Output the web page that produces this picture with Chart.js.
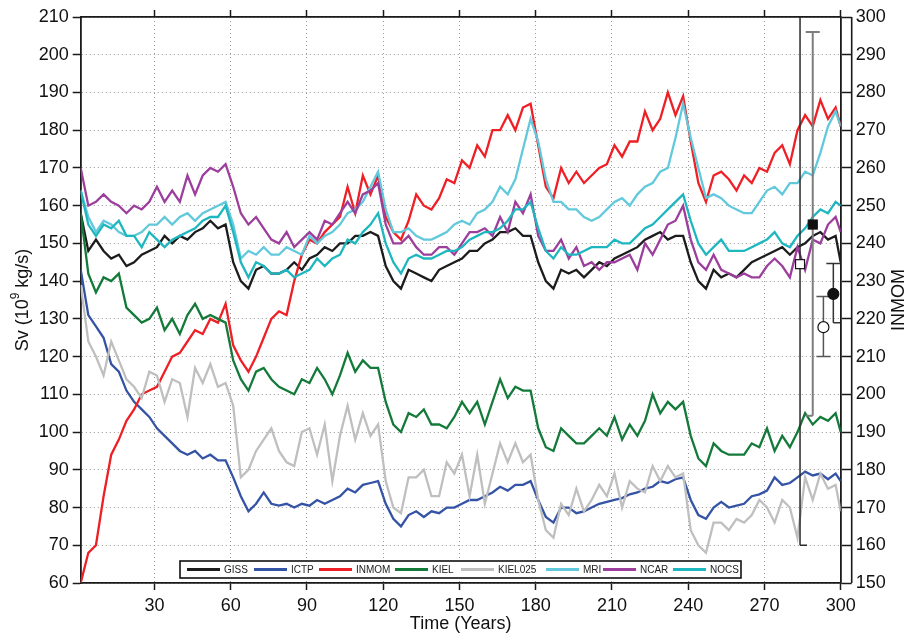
<!DOCTYPE html>
<html><head><meta charset="utf-8">
<script src="https://cdn.jsdelivr.net/npm/chart.js@4.4.1/dist/chart.umd.min.js"></script>
<style>html,body{margin:0;padding:0;background:#fff;}canvas{display:block;}</style>
</head><body>
<canvas id="c" width="908" height="634"></canvas>
<script>
// ---------------- data ----------------
const years = []; for (let y = 1; y <= 298; y += 3) years.push(y); years.push(300);
const xTicks = [30, 60, 90, 120, 150, 180, 210, 240, 270, 300];
const seriesNames = ['GISS', 'ICTP', 'INMOM', 'KIEL', 'KIEL025', 'MRI', 'NCAR', 'NOCS'];

const giss = [158,148,151,148,146,147,144,145,147,148, 149,152,150,152,151,153,154,156,154,155,
  145,140,138,143,144,142,142,143,145,143, 146,147,149,148,150,150,152,152,153,152,
  144,140,138,143,142,141,140,143,144,145, 146,148,148,150,151,153,153,154,152,152,
  145,140,138,143,142,143,141,143,145,144, 146,147,148,149,151,152,153,151,152,152,
  145,140,138,143,141,142,141,143,145,146, 147,148,149,147,149,150,152,153,151,152, 145];
const ictp = [143,131,128,125,118,116,111,108,106,104, 101,99,97,95,94,95,93,94,92.5,92.5,
  88,83,79,81,84,81,80.5,81,80,81, 80.5,82,81,82,83,85,84,86,86.5,87,
  81,77,75,78,79,77.5,79,78.5,80,80, 81,82,82,83,84,85.5,84.5,86,86,87,
  82,77.5,76,80,80,78.5,79,80,81,81.5, 82,82.5,83.5,84,85,85.5,87,86.5,87.5,88,
  82,78,77,80,81.5,80,80.5,81,83,83.5, 84.5,88,86,86.5,88,89.5,88.5,89,87.5,89, 87];
// INMOM is read on the right-hand axis (150-300)
const inmom = [150,158,160,173,184,188,193,196,200,201, 202,206,210,211,214,217,216,220,219,224,
  213,209,206,210,215,220,222,221,230,237, 241,240,243,245,247,255,248,258,253,258,
  247,243,241,246,253,250,249,252,257,256, 262,260,266,263,270,270,274,270,276,277,
  266,255,252,260,256,259,256,258,260,261, 266,263,267,267,275,270,273,280,274,279,
  267,256,251,258,259,257,254,258,256,260, 259,264,266,261,270,274,271,278,273,276, 271];
const kiel = [158,142,137,141,140,142,133,131,129,130, 133,127,130,126,131,134,130,131,130,129,
  119,114,111,116,117,114,112,111,110,114, 113,117,114,110,115,121,116,119,117,117,
  108,102,100,105,104,106,102,102,101,104, 108,105,108,102,108,114,109,112,111,111,
  101,96,95,101,99,97,97,99,101,99, 104,98,102,99,103,110,105,108,106,108,
  99,93,91,97,95,94,94,94,97,96, 101,95,99,96,100,105,102,104,103,105, 100];
const kiel025 = [139,124,120,115,124,119,114,112,109,116, 115,108,114,113,104,117,113,118,112,113,
  107,88,90,95,98,101,95,92,91,100, 101,94,102,87,99,107,98,105,99,102,
  87,80,78.5,88,88,90,83,83,92,89, 94,83,94,81,89,97,92,97,92,94,
  82,74,72,81,78,85,79,82,86,83, 89,80,87,85,84,91,87,91,88,89,
  74,70,68,76,76,74,77,76,78,82, 80,76,82,80,72,88,82,89,85,86, 79];
const mri = [164,157,153,156,155,153,152,152,153,155, 155,157,155,157,158,156,158,159,160,161,
  155,146,148,147,149,147,147,149,148,147, 152,150,152,153,155,158,159,161,165,169,
  159,153,153,154,152,151,151,152,153,155, 156,155,158,159,161,165,163,167,175,183,
  177,167,161,161,159,159,157,156,157,159, 161,162,160,163,165,166,169,170,178,187,
  178,170,162,163,162,160,159,158,158,161, 164,165,163,166,166,169,168,174,181,185, 181];
const ncar = [170,160,161,163,161,160,158,160,159,161, 165,161,164,161,168,163,168,170,169,171,
  165,158,155,157,154,151,150,153,149,151, 153,151,156,155,158,161,158,163,164,166,
  155,150,150,152,149,147,147,149,149,147, 150,153,153,154,152,157,153,161,158,163,
  152,148,148,151,146,149,144,145,143,145, 145,146,147,143,150,147,151,155,156,160,
  151,145,143,147,143,142,141,142,141,141, 144,146,144,141,149,143,151,150,155,157, 153];
const nocs = [164,155,152,155,154,156,152,152,149,153, 151,149,151,152,153,154,156,157,157,160,
  153,145,141,145,144,142,142,143,141,142, 143,146,144,146,147,151,150,153,155,158,
  150,145,142,146,147,146,146,147,148,148, 149,151,152,153,153,154,156,159,159,161,
  154,148,146,149,147,147,148,149,149,149, 151,150,150,152,154,155,157,159,161,163,
  156,150,147,149,151,148,148,148,149,150, 151,153,150,149,152,154,157,159,158,161, 160];

// observational estimates (left axis units) with ranges
const obsYears = [284, 289, 293.2, 297.1];
const obsMean  = [144.5, 155, 127.8, 136.6];
const obsLow   = [70, 104.3, 120, 129];
const obsHigh  = [216, 206, 135.9, 144.7];

// ---------------- styling ----------------
const FONT = '"Liberation Sans", Arial, Helvetica, sans-serif';
const colors = ['#1c1c1c', '#3553a5', '#ee2026', '#147a3a', '#bfbfbf', '#62c9dc', '#9c3f9c', '#1fb7bf'];
const seriesData = [giss, ictp, inmom, kiel, kiel025, mri, ncar, nocs];
const obsStyle = [
  {color: '#2a2a2a', width: 1.5, marker: 'square', fill: '#ffffff', capTop: 'none', capBot: 'right'},
  {color: '#7d7d7d', width: 2,   marker: 'square', fill: '#111111', capTop: 'full', capBot: 'left'},
  {color: '#555555', width: 1.5, marker: 'circle', fill: '#ffffff', capTop: 'full', capBot: 'full'},
  {color: '#333333', width: 1.5, marker: 'circle', fill: '#111111', capTop: 'full', capBot: 'right'}
];
const legendLineX = [187, 254, 319, 395, 461, 546, 603, 673];

const datasets = seriesNames.map((name, i) => ({
  label: name,
  data: years.map((x, k) => ({x: x, y: seriesData[i][k]})),
  borderColor: colors[i],
  backgroundColor: colors[i],
  borderWidth: 2.3,
  pointRadius: 0,
  tension: 0,
  fill: false,
  xAxisID: 'x',
  yAxisID: name === 'INMOM' ? 'y2' : 'y',
  order: 20 - i
}));

const gridCol = '#9a9a9a';
const axisCol = '#1a1a1a';
const setXTicks = s => { s.ticks = xTicks.map(v => ({value: v})); };

const decor = {
  id: 'decor',
  afterDatasetsDraw(chart) {
    const ctx = chart.ctx, ca = chart.chartArea;
    const xs = chart.scales.x, ys = chart.scales.y;
    // observational error bars
    ctx.save();
    ctx.beginPath(); ctx.rect(ca.left, ca.top, ca.right - ca.left, ca.bottom - ca.top); ctx.clip();
    const cap = 7;
    obsYears.forEach((yr, i) => {
      const st = obsStyle[i];
      const px = xs.getPixelForValue(yr);
      const pm = ys.getPixelForValue(obsMean[i]);
      const pl = ys.getPixelForValue(obsLow[i]);
      const ph = ys.getPixelForValue(obsHigh[i]);
      ctx.strokeStyle = st.color; ctx.lineWidth = st.width;
      ctx.beginPath(); ctx.moveTo(px, pl); ctx.lineTo(px, ph); ctx.stroke();
      const drawCap = (py, type) => {
        if (type === 'none') return;
        const a = type === 'right' ? px : px - cap;
        const b = type === 'left' ? px : px + cap;
        ctx.beginPath(); ctx.moveTo(a, py); ctx.lineTo(b, py); ctx.stroke();
      };
      drawCap(ph, st.capTop); drawCap(pl, st.capBot);
      ctx.fillStyle = st.fill; ctx.strokeStyle = '#111'; ctx.lineWidth = 1.2;
      if (st.marker === 'square') {
        ctx.fillRect(px - 4.5, pm - 4.5, 9, 9); ctx.strokeRect(px - 4.5, pm - 4.5, 9, 9);
      } else {
        ctx.beginPath(); ctx.arc(px, pm, 5.5, 0, Math.PI * 2); ctx.fill(); ctx.stroke();
      }
    });
    ctx.restore();

    // legend box inside the plot
    ctx.save();
    const bx = 180, by = 561, bw = 561, bh = 17;
    ctx.fillStyle = '#fff'; ctx.fillRect(bx, by, bw, bh);
    ctx.strokeStyle = '#111'; ctx.lineWidth = 1.6; ctx.strokeRect(bx, by, bw, bh);
    ctx.font = '10px ' + FONT; ctx.textBaseline = 'middle'; ctx.fillStyle = '#222';
    seriesNames.forEach((name, i) => {
      const lx = legendLineX[i], ly = by + bh / 2;
      ctx.strokeStyle = colors[i]; ctx.lineWidth = 2.8;
      ctx.beginPath(); ctx.moveTo(lx, ly); ctx.lineTo(lx + 33, ly); ctx.stroke();
      ctx.fillText(name, lx + 37, ly + 0.5);
    });
    ctx.restore();
  },
  afterDraw(chart) {
    const ctx = chart.ctx, ca = chart.chartArea;
    const midY = (ca.top + ca.bottom) / 2;
    ctx.save();
    // outer right axis line
    ctx.strokeStyle = axisCol; ctx.lineWidth = 1.6;
    ctx.beginPath(); ctx.moveTo(ca.right + 11, ca.top); ctx.lineTo(ca.right + 11, ca.bottom); ctx.stroke();
    ctx.fillStyle = '#111';
    // x title
    ctx.font = '18px ' + FONT; ctx.textAlign = 'center'; ctx.textBaseline = 'middle';
    ctx.fillText('Time (Years)', (ca.left + ca.right) / 2, 624);
    // left title with superscript
    ctx.save();
    ctx.translate(23, midY); ctx.rotate(-Math.PI / 2);
    const p1 = 'Sv (10', p2 = '9', p3 = ' kg/s)';
    ctx.font = '18px ' + FONT; const w1 = ctx.measureText(p1).width, w3 = ctx.measureText(p3).width;
    ctx.font = '12px ' + FONT; const w2 = ctx.measureText(p2).width;
    const tot = w1 + w2 + w3; let x0 = -tot / 2;
    ctx.textAlign = 'left';
    ctx.font = '18px ' + FONT; ctx.fillText(p1, x0, 0);
    ctx.font = '12px ' + FONT; ctx.fillText(p2, x0 + w1, -7);
    ctx.font = '18px ' + FONT; ctx.fillText(p3, x0 + w1 + w2, 0);
    ctx.restore();
    // right title
    ctx.save();
    ctx.translate(899, midY); ctx.rotate(-Math.PI / 2);
    ctx.font = '18px ' + FONT; ctx.textAlign = 'center'; ctx.textBaseline = 'middle';
    ctx.fillText('INMOM', 0, 0);
    ctx.restore();
    ctx.restore();
  }
};

new Chart(document.getElementById('c'), {
  type: 'line',
  data: {datasets},
  options: {
    responsive: false,
    animation: false,
    devicePixelRatio: 1,
    layout: {padding: 0},
    plugins: {legend: {display: false}, tooltip: {enabled: false}},
    scales: {
      x: {
        type: 'linear', position: 'bottom', min: 1, max: 300,
        afterBuildTicks: setXTicks,
        afterFit: s => { s.height = 51; },
        ticks: {font: {family: FONT, size: 18}, color: '#111', padding: 5, maxRotation: 0, autoSkip: false},
        grid: {color: gridCol, lineWidth: 1, tickLength: 7, tickColor: axisCol, tickWidth: 1.5},
        border: {display: true, color: axisCol, width: 1.8, dash: [1, 3]}
      },
      x2: {
        type: 'linear', position: 'top', min: 1, max: 300,
        afterBuildTicks: setXTicks,
        afterFit: s => { s.height = 17; },
        ticks: {display: false},
        grid: {drawOnChartArea: false, tickLength: 7, tickColor: axisCol, tickWidth: 1.5},
        border: {display: true, color: axisCol, width: 1.8}
      },
      y: {
        type: 'linear', position: 'left', min: 60, max: 210,
        afterFit: s => { s.width = 80.7; },
        ticks: {stepSize: 10, font: {family: FONT, size: 18}, color: '#111', padding: 4},
        grid: {color: gridCol, lineWidth: 1, tickLength: 8, tickColor: axisCol, tickWidth: 1.5},
        border: {display: true, color: axisCol, width: 1.8, dash: [1, 3]}
      },
      y2: {
        type: 'linear', position: 'right', min: 150, max: 300,
        afterFit: s => { s.width = 67.3; },
        ticks: {stepSize: 10, font: {family: FONT, size: 18}, color: '#111', padding: 4},
        grid: {drawOnChartArea: false, tickLength: 11, tickColor: axisCol, tickWidth: 1.5},
        border: {display: true, color: axisCol, width: 1.8}
      }
    }
  },
  plugins: [decor]
});
</script>
</body></html>
